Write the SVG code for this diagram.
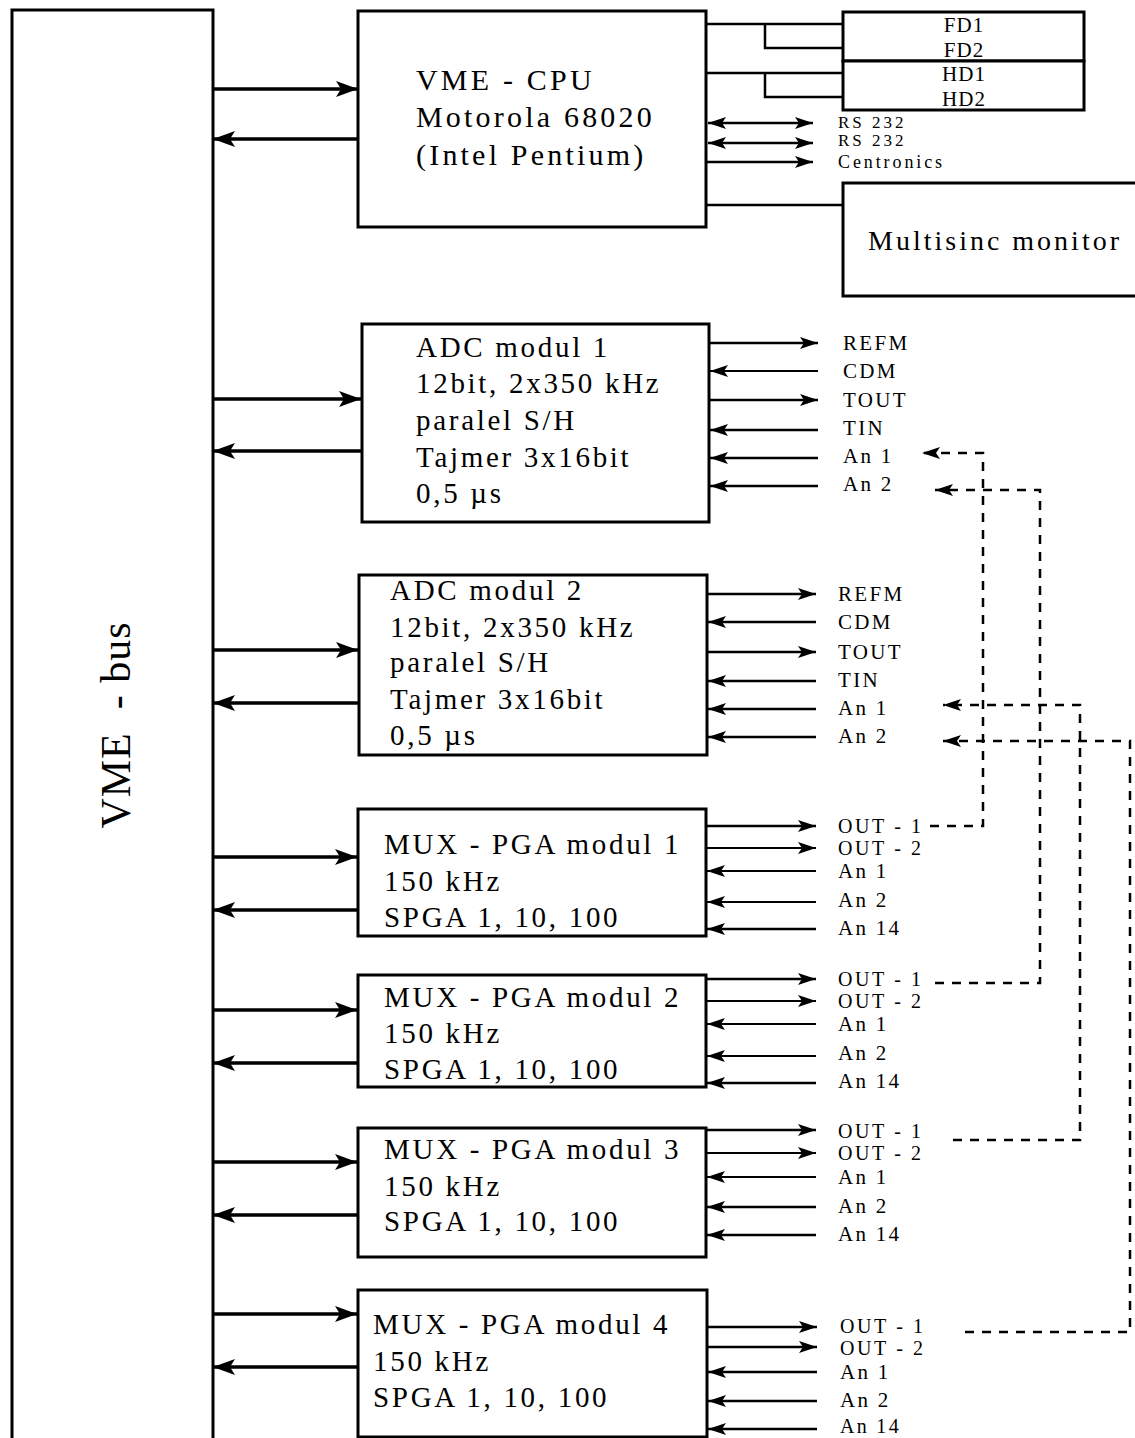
<svg xmlns="http://www.w3.org/2000/svg" width="1135" height="1438" viewBox="0 0 1135 1438">
<style>
.box{fill:#fff;stroke:#000;stroke-width:3}
.t{font-family:"Liberation Serif","Times New Roman",serif;font-size:29px;letter-spacing:2.7px;fill:#000}
.c{font-size:30px;letter-spacing:3.2px}
.s{font-family:"Liberation Serif","Times New Roman",serif;font-size:21px;letter-spacing:2.3px;fill:#000}
.o{font-size:20px;letter-spacing:2.6px}
.bus{stroke:#000;stroke-width:3.5;fill:none}
.ln{stroke:#000;stroke-width:2.5;fill:none}
.thin{stroke:#000;stroke-width:2;fill:none}
.d{stroke:#000;stroke-width:2.5;fill:none;stroke-dasharray:9 8}
</style>
<defs>
<marker id="big" markerUnits="userSpaceOnUse" markerWidth="24" markerHeight="18" refX="22" refY="9" orient="auto-start-reverse"><path d="M0,1 L22,9 L0,17 L5,9 Z" fill="#000"/></marker>
<marker id="sm" markerUnits="userSpaceOnUse" markerWidth="20" markerHeight="14" refX="18" refY="7" orient="auto-start-reverse"><path d="M0,1 L18,7 L0,13 L4,7 Z" fill="#000"/></marker>
</defs>

<g id="vme-bus">
<rect class="box" x="12" y="10" width="201" height="1450"/>
<text class="t" transform="translate(130,725) rotate(-90)" text-anchor="middle" style="font-size:42px;letter-spacing:1px" xml:space="preserve">VME  - bus</text>
</g>

<g id="cpu">
<rect class="box" x="358" y="11" width="348" height="216"/>
<text class="t c" x="416" y="90">VME - CPU</text>
<text class="t c" x="416" y="127">Motorola 68020</text>
<text class="t c" x="416" y="165">(Intel Pentium)</text>
</g>

<g id="fd">
<rect class="box" x="843" y="12" width="241" height="49"/>
<text class="s" x="964" y="32" text-anchor="middle" style="letter-spacing:1px">FD1</text>
<text class="s" x="964" y="57" text-anchor="middle" style="letter-spacing:1px">FD2</text>
</g>
<g id="hd">
<rect class="box" x="843" y="61" width="241" height="49"/>
<text class="s" x="964" y="81" text-anchor="middle" style="letter-spacing:1px">HD1</text>
<text class="s" x="964" y="106" text-anchor="middle" style="letter-spacing:1px">HD2</text>
</g>

<g id="monitor">
<rect class="box" x="843" y="183" width="310" height="113"/>
<text class="t" x="868" y="250" style="font-size:28px;letter-spacing:3px">Multisinc monitor</text>
</g>

<g id="cpu-io">
<text class="s" x="838" y="128" style="font-size:17px;letter-spacing:3px">RS 232</text>
<text class="s" x="838" y="146" style="font-size:17px;letter-spacing:3px">RS 232</text>
<text class="s" x="838" y="168" style="font-size:18px;letter-spacing:2.9px">Centronics</text>
</g>

<g id="adc1">
<rect class="box" x="362" y="324" width="347" height="198"/>
<text class="t" x="416" y="357">ADC modul 1</text>
<text class="t" x="416" y="393">12bit, 2x350 kHz</text>
<text class="t" x="416" y="430">paralel S/H</text>
<text class="t" x="416" y="467">Tajmer 3x16bit</text>
<text class="t" x="416" y="503">0,5 µs</text>
<text class="s" x="843" y="350">REFM</text>
<text class="s" x="843" y="378">CDM</text>
<text class="s" x="843" y="407">TOUT</text>
<text class="s" x="843" y="435">TIN</text>
<text class="s" x="843" y="463">An 1</text>
<text class="s" x="843" y="491">An 2</text>
</g>

<g id="adc2">
<rect class="box" x="359" y="575" width="348" height="180"/>
<text class="t" x="390" y="600">ADC modul 2</text>
<text class="t" x="390" y="637">12bit, 2x350 kHz</text>
<text class="t" x="390" y="672">paralel S/H</text>
<text class="t" x="390" y="709">Tajmer 3x16bit</text>
<text class="t" x="390" y="745">0,5 µs</text>
<text class="s" x="838" y="601">REFM</text>
<text class="s" x="838" y="629">CDM</text>
<text class="s" x="838" y="659">TOUT</text>
<text class="s" x="838" y="687">TIN</text>
<text class="s" x="838" y="715">An 1</text>
<text class="s" x="838" y="743">An 2</text>
</g>

<g id="mux1">
<rect class="box" x="358" y="809" width="348" height="127"/>
<text class="t" x="384" y="854">MUX - PGA modul 1</text>
<text class="t" x="384" y="891">150 kHz</text>
<text class="t" x="384" y="927">SPGA 1, 10, 100</text>
<text class="s o" x="838" y="833">OUT - 1</text>
<text class="s o" x="838" y="855">OUT - 2</text>
<text class="s" x="838" y="878">An 1</text>
<text class="s" x="838" y="907">An 2</text>
<text class="s" x="838" y="935">An 14</text>
</g>

<g id="mux2">
<rect class="box" x="358" y="975" width="348" height="112"/>
<text class="t" x="384" y="1007">MUX - PGA modul 2</text>
<text class="t" x="384" y="1043">150 kHz</text>
<text class="t" x="384" y="1079">SPGA 1, 10, 100</text>
<text class="s o" x="838" y="986">OUT - 1</text>
<text class="s o" x="838" y="1008">OUT - 2</text>
<text class="s" x="838" y="1031">An 1</text>
<text class="s" x="838" y="1060">An 2</text>
<text class="s" x="838" y="1088">An 14</text>
</g>

<g id="mux3">
<rect class="box" x="358" y="1128" width="348" height="129"/>
<text class="t" x="384" y="1159">MUX - PGA modul 3</text>
<text class="t" x="384" y="1196">150 kHz</text>
<text class="t" x="384" y="1231">SPGA 1, 10, 100</text>
<text class="s o" x="838" y="1138">OUT - 1</text>
<text class="s o" x="838" y="1160">OUT - 2</text>
<text class="s" x="838" y="1184">An 1</text>
<text class="s" x="838" y="1213">An 2</text>
<text class="s" x="838" y="1241">An 14</text>
</g>

<g id="mux4">
<rect class="box" x="358" y="1290" width="349" height="147"/>
<text class="t" x="373" y="1334">MUX - PGA modul 4</text>
<text class="t" x="373" y="1371">150 kHz</text>
<text class="t" x="373" y="1407">SPGA 1, 10, 100</text>
<text class="s o" x="840" y="1333">OUT - 1</text>
<text class="s o" x="840" y="1355">OUT - 2</text>
<text class="s" x="840" y="1379">An 1</text>
<text class="s" x="840" y="1407">An 2</text>
<text class="s" x="840" y="1433" style="font-size:20px">An 14</text>
</g>

<g id="connectors">
<path class="bus" d="M213,89 H358" marker-end="url(#big)"/>
<path class="bus" d="M358,139 H213" marker-end="url(#big)"/>
<path class="bus" d="M213,399 H361" marker-end="url(#big)"/>
<path class="bus" d="M361,451 H213" marker-end="url(#big)"/>
<path class="bus" d="M213,650 H358" marker-end="url(#big)"/>
<path class="bus" d="M358,703 H213" marker-end="url(#big)"/>
<path class="bus" d="M213,857 H357" marker-end="url(#big)"/>
<path class="bus" d="M357,910 H213" marker-end="url(#big)"/>
<path class="bus" d="M213,1010 H357" marker-end="url(#big)"/>
<path class="bus" d="M357,1063 H213" marker-end="url(#big)"/>
<path class="bus" d="M213,1162 H357" marker-end="url(#big)"/>
<path class="bus" d="M357,1215 H213" marker-end="url(#big)"/>
<path class="bus" d="M213,1314 H357" marker-end="url(#big)"/>
<path class="bus" d="M357,1367 H213" marker-end="url(#big)"/>

<path class="ln" d="M706,24 H843 M765,24 V48 H843"/>
<path class="ln" d="M706,73 H843 M765,73 V97 H843"/>
<path class="ln" d="M706,205 H843"/>
<path class="ln" d="M708,123 H813" marker-start="url(#sm)" marker-end="url(#sm)"/>
<path class="ln" d="M708,143 H813" marker-start="url(#sm)" marker-end="url(#sm)"/>
<path class="ln" d="M706,162 H813" marker-end="url(#sm)"/>

<path class="ln" d="M709,343 H818" marker-end="url(#sm)"/>
<path class="thin" d="M818,371 H710" marker-end="url(#sm)"/>
<path class="ln" d="M709,400 H818" marker-end="url(#sm)"/>
<path class="ln" d="M818,430 H710" marker-end="url(#sm)"/>
<path class="ln" d="M818,458 H710" marker-end="url(#sm)"/>
<path class="ln" d="M818,486 H710" marker-end="url(#sm)"/>

<path class="ln" d="M707,594 H816" marker-end="url(#sm)"/>
<path class="ln" d="M816,622 H708" marker-end="url(#sm)"/>
<path class="ln" d="M707,652 H816" marker-end="url(#sm)"/>
<path class="ln" d="M816,681 H708" marker-end="url(#sm)"/>
<path class="ln" d="M816,709 H708" marker-end="url(#sm)"/>
<path class="ln" d="M816,737 H708" marker-end="url(#sm)"/>

<path class="ln" d="M706,826 H816" marker-end="url(#sm)"/>
<path class="thin" d="M706,848 H816" marker-end="url(#sm)"/>
<path class="thin" d="M816,871 H707" marker-end="url(#sm)"/>
<path class="thin" d="M816,902 H707" marker-end="url(#sm)"/>
<path class="ln" d="M816,929 H707" marker-end="url(#sm)"/>

<path class="ln" d="M706,979 H816" marker-end="url(#sm)"/>
<path class="thin" d="M706,1001 H816" marker-end="url(#sm)"/>
<path class="thin" d="M816,1024 H707" marker-end="url(#sm)"/>
<path class="thin" d="M816,1056 H707" marker-end="url(#sm)"/>
<path class="ln" d="M816,1083 H707" marker-end="url(#sm)"/>

<path class="ln" d="M706,1130 H816" marker-end="url(#sm)"/>
<path class="thin" d="M706,1153 H816" marker-end="url(#sm)"/>
<path class="thin" d="M816,1177 H707" marker-end="url(#sm)"/>
<path class="ln" d="M816,1207 H707" marker-end="url(#sm)"/>
<path class="ln" d="M816,1235 H707" marker-end="url(#sm)"/>

<path class="ln" d="M707,1327 H817" marker-end="url(#sm)"/>
<path class="ln" d="M707,1347 H817" marker-end="url(#sm)"/>
<path class="ln" d="M817,1372 H708" marker-end="url(#sm)"/>
<path class="ln" d="M817,1401 H708" marker-end="url(#sm)"/>
<path class="ln" d="M817,1429 H708" marker-end="url(#sm)"/>

<path class="d" d="M930,826 H983 V453 H922" marker-end="url(#sm)"/>
<path class="d" d="M935,983 H1040 V490 H935" marker-end="url(#sm)"/>
<path class="d" d="M953,1140 H1080 V705 H943" marker-end="url(#sm)"/>
<path class="d" d="M965,1332 H1130 V741 H943" marker-end="url(#sm)"/>
</g>
</svg>
